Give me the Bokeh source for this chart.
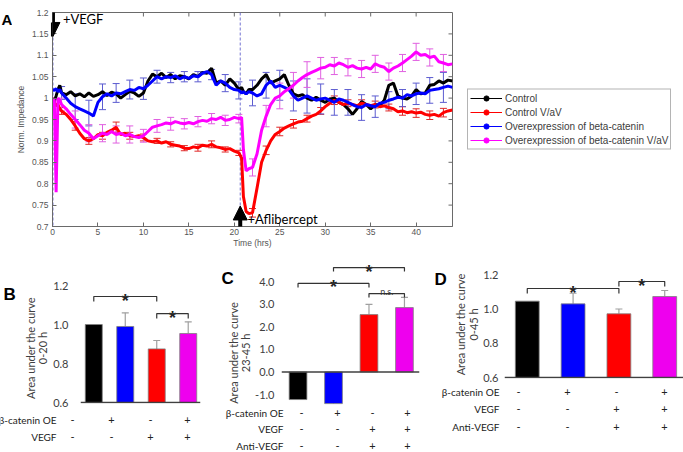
import math
from bokeh.plotting import figure
from bokeh.layouts import column, row
from bokeh.models import (Range1d, FixedTicker, Legend, LegendItem, ColumnDataSource,
                          Whisker, TeeHead, Span, Label, Arrow, NormalHead,
                          PrintfTickFormatter, CustomJSTickFormatter)
from bokeh.core.properties import value
from bokeh.embed import file_html
from bokeh.resources import INLINE

# ------------------------------------------------------------------ data: panel A
T = [0, 0.2, 0.4, 0.6, 0.8, 1.0,
     1.5, 2.0, 2.5, 3.0, 3.5, 4.0, 4.5, 5.0, 5.5, 6.0,
     6.5, 7.0, 7.5, 8.0, 8.5, 9.0, 9.5, 10.0, 10.5, 11.0,
     11.5, 12.0, 12.5, 13.0, 13.5, 14.0, 14.5, 15.0, 15.5, 16.0,
     16.5, 17.0, 17.5, 18.0, 18.5, 19.0, 19.5, 20.0, 20.5,
     20.8, 21.0, 21.3, 21.6,
     22.0, 22.5, 23.0, 23.5, 24.0, 24.5, 25.0, 25.5, 26.0, 26.5,
     27.0, 27.5, 28.0, 28.5, 29.0, 29.5, 30.0, 30.5, 31.0, 31.5,
     32.0, 32.5, 33.0, 33.5, 34.0, 34.5, 35.0, 35.5, 36.0, 36.5,
     37.0, 37.5, 38.0, 38.5, 39.0, 39.5, 40.0, 40.5, 41.0, 41.5,
     42.0, 42.5, 43.0, 43.5, 44.0]

CONTROL = [1.000, 0.992, 1.005, 1.020, 1.030, 1.012,
           1.008, 1.015, 1.005, 1.010, 1.003, 1.012, 1.004, 1.008, 1.015, 1.006,
           1.014, 1.010, 1.000, 1.008, 1.016, 1.012, 1.004, 1.012, 1.040, 1.056,
           1.050, 1.058, 1.048, 1.055, 1.045, 1.052, 1.050, 1.045, 1.055, 1.050,
           1.060, 1.058, 1.070, 1.035, 1.040, 1.030, 1.045, 1.035, 1.020,
           1.025, 1.015, 1.010, 1.020,
           1.020, 1.030, 1.045, 1.055, 1.035, 1.040, 1.045, 1.055, 1.030, 1.010,
           1.005, 1.008, 1.000, 0.995, 1.002, 0.995, 0.990, 0.998, 1.000, 0.990,
           0.985, 0.975, 0.962, 0.975, 0.992, 0.985, 0.975, 0.985, 0.982, 0.995,
           1.030, 1.035, 1.005, 1.000, 0.998, 1.005, 1.020, 1.010, 1.012, 1.030,
           1.032, 1.040, 1.035, 1.042, 1.040]

CONTROL_VAV = [1.000, 0.990, 0.982, 0.985, 0.975, 0.970,
               0.962, 0.950, 0.935, 0.918, 0.905, 0.900, 0.905, 0.915, 0.912, 0.920,
               0.925, 0.932, 0.915, 0.918, 0.912, 0.910, 0.912, 0.908, 0.900, 0.898,
               0.900, 0.895, 0.898, 0.892, 0.890, 0.888, 0.883, 0.882, 0.886, 0.884,
               0.890, 0.888, 0.892, 0.886, 0.884, 0.880, 0.882, 0.876, 0.872,
               0.860, 0.770, 0.735, 0.730,
               0.732, 0.790, 0.850, 0.878, 0.900, 0.915, 0.922, 0.930, 0.935, 0.940,
               0.944, 0.946, 0.952, 0.958, 0.962, 0.970, 0.980, 0.988, 0.995, 0.990,
               0.985, 0.988, 0.985, 0.982, 0.988, 0.985, 0.982, 0.985, 0.980, 0.982,
               0.978, 0.975, 0.968, 0.970, 0.966, 0.968, 0.965, 0.967, 0.962, 0.960,
               0.962, 0.958, 0.966, 0.970, 0.972]

BCAT_OE = [1.020, 1.018, 1.022, 1.015, 1.020, 1.012,
           1.000, 0.988, 0.980, 0.975, 0.970, 0.965, 0.958, 0.990, 1.003, 1.010,
           1.005, 1.012, 1.010, 1.015, 1.020, 1.018, 1.025, 1.022, 1.030, 1.040,
           1.050, 1.045, 1.050, 1.048, 1.052, 1.045, 1.050, 1.046, 1.052, 1.050,
           1.058, 1.062, 1.055, 1.030, 1.040, 1.035, 1.025, 1.020, 1.018,
           1.012, 1.015, 1.010, 1.015,
           1.012, 1.005, 1.010, 1.030, 1.040, 1.025, 1.030, 1.025, 1.020, 1.005,
           0.995, 1.000, 1.005, 1.000, 0.995, 0.998, 1.000, 0.995, 0.990, 0.998,
           0.995, 0.990, 0.985, 0.980, 0.978, 0.985, 0.982, 0.980, 0.988, 0.990,
           0.995, 0.998, 1.002, 1.000, 1.008, 1.005, 1.010, 1.012, 1.010, 1.018,
           1.020, 1.022, 1.025, 1.028, 1.025]

BCAT_OE_VAV = [1.000, 0.995, 0.780, 1.000, 0.995, 0.985,
               0.975, 0.962, 0.950, 0.938, 0.925, 0.918, 0.905, 0.912, 0.918, 0.915,
               0.922, 0.915, 0.918, 0.912, 0.915, 0.910, 0.908, 0.912, 0.922, 0.932,
               0.935, 0.938, 0.942, 0.940, 0.945, 0.942, 0.940, 0.943, 0.940, 0.945,
               0.948, 0.946, 0.952, 0.950, 0.955, 0.948, 0.950, 0.955, 0.952,
               0.955, 0.880, 0.830, 0.835,
               0.838, 0.870, 0.925, 0.958, 0.985, 1.000, 1.005, 1.015, 1.022, 1.030,
               1.040, 1.048, 1.055, 1.060, 1.065, 1.070, 1.072, 1.078, 1.075, 1.082,
               1.078, 1.072, 1.076, 1.070, 1.068, 1.072, 1.068, 1.080, 1.075, 1.072,
               1.062, 1.070, 1.075, 1.082, 1.090, 1.098, 1.108, 1.100, 1.102, 1.095,
               1.098, 1.085, 1.082, 1.078, 1.080]

SERIES_NAMES = ["Control", "Control V/aV", "Overexpression of beta-catenin",
                "Overexpression of beta-catenin V/aV"]

ERR_T = [1.0, 2.5, 4.0, 5.5, 7.0, 8.5, 10.0, 11.5, 13.0, 14.5, 16.0, 17.5, 19.0, 20.5,
         22.0, 23.5, 25.0, 26.5, 28.0, 29.5, 31.0, 32.5, 34.0, 35.5, 37.0, 38.5, 40.0,
         41.5, 43.0]
ERR_CONTROL_VAV = [0.008, 0.010, 0.008, 0.008, 0.012, 0.008, 0.008, 0.006, 0.006, 0.006,
                   0.008, 0.008, 0.006, 0.006, 0.010, 0.010, 0.010, 0.010, 0.008, 0.008,
                   0.010, 0.008, 0.008, 0.008, 0.008, 0.010, 0.010, 0.010, 0.010]
ERR_BCAT_OE = [0.015, 0.030, 0.030, 0.030, 0.022, 0.022, 0.025, 0.015, 0.012, 0.012,
               0.012, 0.012, 0.020, 0.020, 0.030, 0.030, 0.035, 0.035, 0.040, 0.035,
               0.030, 0.030, 0.030, 0.025, 0.020, 0.020, 0.025, 0.030, 0.035]
ERR_BCAT_OE_VAV = [0.015, 0.020, 0.020, 0.020, 0.020, 0.020, 0.015, 0.015, 0.015, 0.012,
                   0.012, 0.012, 0.012, 0.010, 0.020, 0.025, 0.030, 0.030, 0.030, 0.025,
                   0.020, 0.020, 0.020, 0.020, 0.020, 0.020, 0.020, 0.020, 0.020]

EVENT_T = [0.05, 20.65]
EVENT_TEXT = ["+VEGF", "+Aflibercept"]

A_XTICKS = [0, 5, 10, 15, 20, 25, 30, 35, 40]
A_YTICKS = [0.7, 0.75, 0.8, 0.85, 0.9, 0.95, 1.0, 1.05, 1.1, 1.15, 1.2]

# ------------------------------------------------------------------ data: bar panels
BAR_X = [1, 2, 3, 4]
B_VALUES = [1.000, 0.990, 0.875, 0.954]
B_ERR = [0.0, 0.070, 0.043, 0.060]
C_VALUES = [-1.22, -1.40, 2.54, 2.85]
C_ERR = [0.0, 0.85, 0.45, 0.45]
D_VALUES = [1.046, 1.030, 0.972, 1.073]
D_ERR = [0.0, 0.062, 0.028, 0.035]

B_YTICKS = [0.6, 0.8, 1.0, 1.2]
C_YTICKS = [-1.0, 0.0, 1.0, 2.0, 3.0, 4.0]
D_YTICKS = [0.6, 0.8, 1.0, 1.2]

B_ROWS = ["β-catenin OE", "VEGF"]
B_SYMS = [["-", "+", "-", "+"], ["-", "-", "+", "+"]]
CD_ROWS = ["β-catenin OE", "VEGF", "Anti-VEGF"]
CD_SYMS = [["-", "+", "-", "+"], ["-", "-", "+", "+"], ["-", "-", "+", "+"]]

B_SIG = [(1, 3, 1.1436, "*"), (3, 4, 1.0564, "*")]
C_SIG = [(1, 3, 3.92, "*"), (2, 4, 4.62, "*"), (3, 4, 3.47, "n.s.")]
D_SIG = [(1, 3, 1.1197, "*"), (3, 4, 1.1606, "*")]

B_YLABEL = ["Area under the curve", "0-20 h"]
C_YLABEL = ["Area under the curve", "23-45 h"]
D_YLABEL = ["Area under the curve", "0-45 h"]

# ------------------------------------------------------------------ styles
LINE_COLORS = ["#000000", "#ff0000", "#0000ff", "#ff00ff"]
ERR_COLORS = ["#e02828", "#5c5cd0", "#e060e0"]
BAR_COLORS = ["#000000", "#0000ff", "#ff0000", "#ee00ee"]
AX_GRAY = "#6a6a6a"
TXT_GRAY = "#404040"

W = 683
HA = 252
HB = 452 - HA


def blank_fig(w, h, xr=None, yr=None):
    """A figure without axes or title whose frame is the whole canvas."""
    p = figure(width=w, height=h, title=None,
               x_range=xr if xr is not None else Range1d(0, w),
               y_range=yr if yr is not None else Range1d(h, 0),
               x_axis_location=None, y_axis_location=None,
               output_backend="svg", toolbar_location=None, min_border=0)
    p.grid.visible = False
    p.outline_line_color = None
    return p


# ================================================================== panel A
SIDE_A = 12
PA_W = 442
LEG_W = W - SIDE_A - PA_W
A_LEFT, A_RIGHT, A_TOP, A_BOTTOM = 40, 2, 12, 26

sideA = blank_fig(SIDE_A, HA)
sideA.text(x=[1], y=[8], text=["A"], text_font=value("Liberation Sans"),
           text_font_style="bold", text_font_size=value("15px"),
           text_align="left", text_baseline="middle", text_color="black")

pA = figure(width=PA_W, height=HA, title=None, x_range=Range1d(0, 44),
            y_range=Range1d(0.7, 1.2), output_backend="svg", toolbar_location=None,
            min_border_left=A_LEFT, min_border_right=A_RIGHT, min_border_top=A_TOP,
            min_border_bottom=A_BOTTOM)
pA.grid.visible = False
pA.outline_line_color = AX_GRAY

for ax in (pA.xaxis[0], pA.yaxis[0]):
    ax.axis_line_color = AX_GRAY
    ax.major_tick_line_color = AX_GRAY
    ax.major_tick_in = 4
    ax.major_tick_out = 0
    ax.minor_tick_line_color = None
    ax.major_label_text_font = "Liberation Sans"
    ax.major_label_text_font_size = "8.5px"
    ax.major_label_text_color = "#555555"
    ax.axis_label_text_font = "Liberation Sans"
    ax.axis_label_text_font_size = "8.5px"
    ax.axis_label_text_font_style = "normal"
    ax.axis_label_text_color = "#555555"
pA.xaxis.ticker = FixedTicker(ticks=A_XTICKS)
pA.yaxis.ticker = FixedTicker(ticks=A_YTICKS)
pA.yaxis.formatter = CustomJSTickFormatter(code="return String(Math.round(tick*100)/100);")
pA.xaxis.axis_label = "Time (hrs)"
pA.yaxis.axis_label = "Norm. Impedance"
pA.xaxis.major_label_standoff = 2
pA.xaxis.axis_label_standoff = 0
pA.yaxis.major_label_standoff = 4
pA.yaxis.axis_label_standoff = 3

# MATLAB-style inward ticks on the top and right edges of the box
dy_tick = 4 * 0.5 / (HA - A_TOP - A_BOTTOM)
dx_tick = 4 * 44 / (PA_W - A_LEFT - A_RIGHT)
pA.segment(x0=A_XTICKS, y0=[1.2] * len(A_XTICKS), x1=A_XTICKS,
           y1=[1.2 - dy_tick] * len(A_XTICKS), line_color=AX_GRAY, line_width=1)
pA.segment(x0=[44] * len(A_YTICKS), y0=A_YTICKS, x1=[44 - dx_tick] * len(A_YTICKS),
           y1=A_YTICKS, line_color=AX_GRAY, line_width=1)

# event lines
for t in EVENT_T:
    pA.add_layout(Span(location=t, dimension="height", line_color="#7272d2",
                       line_dash="3 2", line_width=1, level="underlay"))

# error bars
for vals, errs, col in [(CONTROL_VAV, ERR_CONTROL_VAV, ERR_COLORS[0]),
                        (BCAT_OE, ERR_BCAT_OE, ERR_COLORS[1]),
                        (BCAT_OE_VAV, ERR_BCAT_OE_VAV, ERR_COLORS[2])]:
    centers = [vals[T.index(t)] for t in ERR_T]
    src = ColumnDataSource(dict(base=ERR_T,
                                lower=[c - e for c, e in zip(centers, errs)],
                                upper=[c + e for c, e in zip(centers, errs)]))
    pA.add_layout(Whisker(source=src, base="base", lower="lower", upper="upper",
                          line_color=col, line_width=1, level="underlay",
                          upper_head=TeeHead(size=7, line_color=col, line_width=1),
                          lower_head=TeeHead(size=7, line_color=col, line_width=1)))

SERIES = [CONTROL, CONTROL_VAV, BCAT_OE, BCAT_OE_VAV]
for vals, col in zip(SERIES, LINE_COLORS):
    pA.line(T, vals, line_color=col, line_width=3)

# arrows and event texts
pA.add_layout(Arrow(end=NormalHead(size=14, fill_color="black", line_color="black"),
                    x_start=EVENT_T[0], y_start=1.223, x_end=EVENT_T[0], y_end=1.144,
                    line_width=4, line_color="black"))
pA.add_layout(Arrow(end=NormalHead(size=14, fill_color="black", line_color="black"),
                    x_start=EVENT_T[1], y_start=0.665, x_end=EVENT_T[1], y_end=0.748,
                    line_width=4, line_color="black"))
pA.add_layout(Label(x=1.15, y=1.1837, text=EVENT_TEXT[0], text_font="Lato",
                    text_font_size="13px", text_baseline="middle", text_color="black"))
pA.add_layout(Label(x=21.45, y=0.7175, text=EVENT_TEXT[1], text_font="Lato",
                    text_font_size="13px", text_baseline="middle", text_color="black"))

# legend in its own canvas (MATLAB style: thin line + dot); its renderers use the
# same series but the view range keeps them out of sight
pLeg = blank_fig(LEG_W, HA, xr=Range1d(-200, -100), yr=Range1d(0, 1))
items = []
for name, vals, col in zip(SERIES_NAMES, SERIES, LINE_COLORS):
    rl = pLeg.line(T, vals, line_color=col, line_width=1)
    rs = pLeg.scatter(T, vals, marker="circle", size=3, fill_color=col, line_color=col)
    items.append(LegendItem(label=name, renderers=[rl, rs]))
leg = Legend(items=items, location="center_left", orientation="vertical",
             label_text_font="Liberation Sans", label_text_font_size="10px",
             label_text_color="#3c3c3c", glyph_width=32, glyph_height=13,
             label_height=13, spacing=1, padding=2, margin=13, label_standoff=3,
             border_line_color=AX_GRAY, border_line_width=1, background_fill_alpha=1)
pLeg.add_layout(leg)

top_row = row(sideA, pA, pLeg)


# ================================================================== panels B, C, D
def bar_panel(cfg, values, errs, yticks, ylabel, rows, syms, sigs):
    w, sw, ht = cfg["width"], cfg["side"], cfg["top_h"]
    l, r, t, b = cfg["frame"]
    xr, yr = cfg["xr"], cfg["yr"]

    # --- left strip: panel letter + rotated y label
    side = blank_fig(sw, ht)
    lx, ly = cfg["letter_px"]
    side.text(x=[lx], y=[ly], text=[cfg["letter"]], text_font=value("Liberation Sans"),
              text_font_style="bold", text_font_size=value("17px"), text_align="left",
              text_baseline="middle", text_color="black")
    side.text(x=cfg["ylabel_x"], y=[cfg["ylabel_y"]] * 2, text=ylabel,
              text_font=value("Lato"), text_font_size=value("11px"), angle=math.pi / 2,
              text_align="center", text_baseline="middle", text_color=TXT_GRAY)

    # --- bars
    p = figure(width=w - sw, height=ht, title=None, x_range=Range1d(*xr),
               y_range=Range1d(*yr), x_axis_location=None, output_backend="svg",
               toolbar_location=None, min_border_left=l - sw, min_border_right=w - r,
               min_border_top=t, min_border_bottom=ht - b)
    p.grid.visible = False
    p.outline_line_color = None
    ppu = (b - t) / (yr[1] - yr[0])

    ya = p.yaxis[0]
    ya.ticker = FixedTicker(ticks=yticks)
    ya.formatter = PrintfTickFormatter(format="%.1f")
    ya.axis_line_color = None
    ya.major_tick_line_color = None
    ya.minor_tick_line_color = None
    ya.major_tick_out = 0
    ya.major_tick_in = 0
    ya.major_label_text_font = "Lato"
    ya.major_label_text_font_size = "11px"
    ya.major_label_text_color = TXT_GRAY
    ya.major_label_standoff = cfg["tick_standoff"]

    base = cfg["base"]
    p.vbar(x=BAR_X, top=values, bottom=base, width=cfg["bw"], fill_color=BAR_COLORS,
           line_color="#808080", line_width=0.8)
    p.add_layout(Span(location=base, dimension="width", line_color=TXT_GRAY, line_width=1.3))

    ex = [x for x, e in zip(BAR_X, errs) if e > 0]
    elo = [v for v, e in zip(values, errs) if e > 0]
    ehi = [v + e for v, e in zip(values, errs) if e > 0]
    src = ColumnDataSource(dict(base=ex, lower=elo, upper=ehi))
    p.add_layout(Whisker(source=src, base="base", lower="lower", upper="upper",
                         line_color="#a0a0a0", line_width=1.2, lower_head=None,
                         upper_head=TeeHead(size=7, line_color="#a0a0a0", line_width=1.2)))

    tick = cfg["bracket_px"] / ppu
    xs, ys = [], []
    for a, c, h, txt in sigs:
        xs.append([a, a, c, c])
        ys.append([h - tick, h, h, h - tick])
        if txt == "*":
            p.text(x=[(a + c) / 2], y=[h - 4 / ppu], text=[txt],
                   text_font=value("Liberation Sans"), text_font_style="bold",
                   text_font_size=value("18px"), text_align="center",
                   text_baseline="alphabetic", text_color="#222222")
        else:
            p.text(x=[(a + c) / 2], y=[h + 2 / ppu], text=[txt], text_font=value("Lato"),
                   text_font_size=value("9px"), text_align="center",
                   text_baseline="alphabetic", text_color=TXT_GRAY)
    p.multi_line(xs, ys, line_color="#333333", line_width=1.2)

    # --- condition table under the bars
    tb = blank_fig(w, HB - ht)
    for ri, (name, rsyms) in enumerate(zip(rows, syms)):
        yy = cfg["rows_px"][ri] - ht
        tb.text(x=[cfg["row_name_px"]], y=[yy], text=[name], text_font=value("Lato"),
                text_font_size=value("10px"), text_align="right", text_baseline="middle",
                text_color="#222222")
        tb.text(x=cfg["sym_px"], y=[yy] * len(rsyms), text=rsyms, text_font=value("Lato"),
                text_font_size=value("11px"), text_align="center", text_baseline="middle",
                text_color="#222222")
    return column(row(side, p), tb)


CFG_B = dict(letter="B", width=220, side=50, top_h=157, frame=(78, 200, 23, 151),
             xr=(0.578, 4.39), yr=(0.595, 1.2514), base=0.6, bw=0.54,
             letter_px=(3, 23), ylabel_x=[30, 42], ylabel_y=89,
             rows_px=[167, 184], row_name_px=56, sym_px=[72, 111, 150, 187],
             tick_standoff=12, bracket_px=5)
CFG_C = dict(letter="C", width=212, side=32, top_h=153, frame=(57, 199, 4, 153),
             xr=(0.534, 4.424), yr=(-1.483, 5.11), base=0.0, bw=0.5,
             letter_px=(1, 23), ylabel_x=[13, 25], ylabel_y=99,
             rows_px=[160, 176.5, 193], row_name_px=63, sym_px=[81, 117, 152, 187],
             tick_standoff=7, bracket_px=4)
CFG_D = dict(letter="D", width=251, side=48, top_h=132, frame=(70, 251, 5, 126),
             xr=(0.503, 4.41), yr=(0.5942, 1.3008), base=0.6, bw=0.52,
             letter_px=(2, 24), ylabel_x=[28, 41], ylabel_y=73,
             rows_px=[139, 156, 174], row_name_px=67, sym_px=[86, 135, 184, 232],
             tick_standoff=6, bracket_px=5)

pB = bar_panel(CFG_B, B_VALUES, B_ERR, B_YTICKS, B_YLABEL, B_ROWS, B_SYMS, B_SIG)
pC = bar_panel(CFG_C, C_VALUES, C_ERR, C_YTICKS, C_YLABEL, CD_ROWS, CD_SYMS, C_SIG)
pD = bar_panel(CFG_D, D_VALUES, D_ERR, D_YTICKS, D_YLABEL, CD_ROWS, CD_SYMS, D_SIG)

layout = column(top_row, row(pB, pC, pD))
open("out.html", "w").write(file_html(layout, INLINE))
